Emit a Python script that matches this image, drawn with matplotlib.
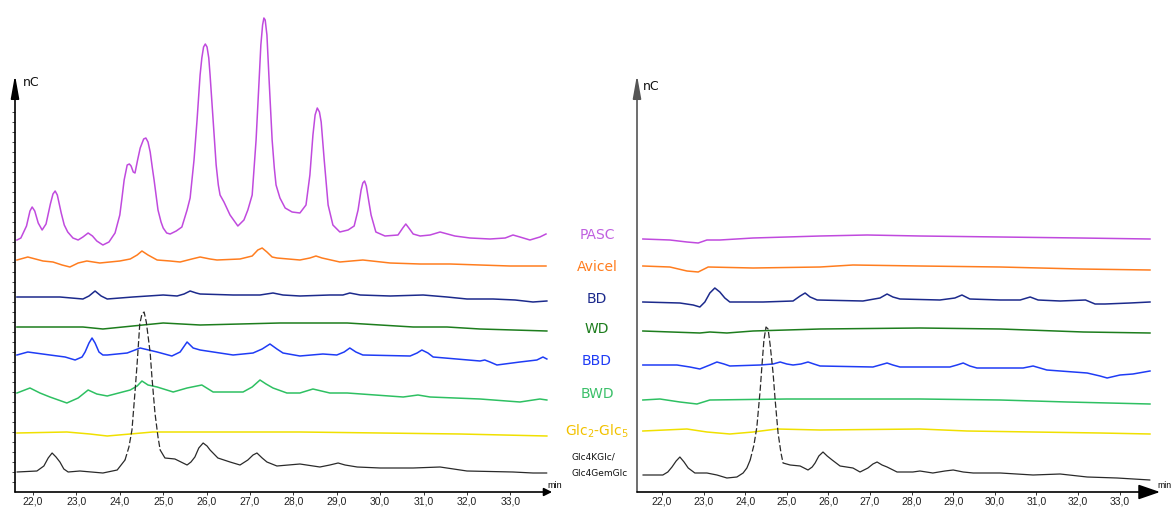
import matplotlib
matplotlib.use("Agg")
import matplotlib.pyplot as plt
import numpy as np

# ---------------- data (time in min, signal in nC, relative to each trace's start) -------------
sample_labels = ["PASC", "Avicel", "BD", "WD", "BBD", "BWD", "Glc$_2$-Glc$_5$", "Glc4KGlc/\nGlc4GemGlc"]
x_ticks = [22, 23, 24, 25, 26, 27, 28, 29, 30, 31, 32, 33]
x_tick_labels = ["22,0", "23,0", "24,0", "25,0", "26,0", "27,0", "28,0", "29,0", "30,0", "31,0", "32,0", "33,0"]

# Left panel
L_PASC_t = [21.63, 21.72, 21.85, 21.93, 21.98, 22.04, 22.12, 22.21, 22.30, 22.40,
            22.46, 22.51, 22.56, 22.65, 22.72, 22.80, 22.92, 23.04, 23.15, 23.27,
            23.37, 23.47, 23.61, 23.75, 23.89, 24.00, 24.05, 24.10, 24.17, 24.22,
            24.26, 24.31, 24.35, 24.41, 24.47, 24.55, 24.60, 24.65, 24.70, 24.75,
            24.79, 24.88, 24.95, 25.00, 25.08, 25.16, 25.30, 25.43, 25.55, 25.62,
            25.71, 25.78, 25.85, 25.89, 25.93, 25.97, 26.01, 26.05, 26.08, 26.15,
            26.22, 26.27, 26.31, 26.40, 26.54, 26.72, 26.86, 26.95, 27.05, 27.14,
            27.21, 27.25, 27.29, 27.32, 27.35, 27.39, 27.44, 27.51, 27.56, 27.60,
            27.69, 27.81, 27.97, 28.15, 28.29, 28.38, 28.45, 28.50, 28.55, 28.60,
            28.64, 28.71, 28.80, 28.91, 29.07, 29.26, 29.40, 29.49, 29.56, 29.60,
            29.64, 29.68, 29.74, 29.79, 29.90, 30.11, 30.41, 30.52, 30.59, 30.66,
            30.76, 30.92, 31.15, 31.38, 31.72, 32.07, 32.53, 32.88, 33.06, 33.22,
            33.45, 33.68, 33.82]
L_PASC_y = [0, 2, 14, 29, 33, 29, 17, 10, 16, 36,
            46, 49, 45, 27, 15, 8, 2, 0, 3, 7,
            4, -1, -5, -2, 7, 25, 42, 60, 75, 76,
            74, 68, 67, 80, 92, 101, 102, 98, 88, 72,
            60, 30, 18, 12, 7, 6, 9, 13, 30, 42,
            80, 120, 165, 182, 193, 196, 193, 182, 165, 120,
            75, 55, 45, 38, 25, 14, 20, 30, 45, 100,
            160, 195, 215, 222, 220, 205, 160, 100, 72, 55,
            42, 32, 28, 27, 35, 65, 105, 125, 132, 128,
            118, 80, 35, 15, 8, 10, 14, 30, 50, 57,
            59, 54, 38, 25, 8, 4, 5, 12, 16, 12,
            6, 4, 5, 8, 4, 2, 1, 2, 5, 3,
            0, 3, 6]

L_Avicel_t = [21.63, 21.88, 22.23, 22.46, 22.67, 22.85, 23.04, 23.24, 23.54, 24.00, 24.24, 24.40, 24.51, 24.65, 24.86,
              25.16, 25.39, 25.66, 25.85, 26.08, 26.24, 26.77, 27.05, 27.18, 27.28, 27.39, 27.51, 27.62, 28.15, 28.38,
              28.52, 28.66, 29.07, 29.60, 30.23, 30.92, 31.61, 32.30, 32.99, 33.82]
L_Avicel_y = [0, 3, -1, -2, -5, -7, -3, -1, -3, -1, 1, 5, 9, 5, 0,
              -1, -2, 1, 3, 1, 0, 1, 4, 10, 12, 8, 3, 2, 0, 2,
              4, 2, -2, 0, -3, -4, -4, -5, -6, -6]

L_BD_t = [21.63, 22.62, 23.15, 23.29, 23.43, 23.57, 23.71, 24.30, 25.00, 25.32, 25.48, 25.62, 25.76, 25.85, 26.61,
          27.23, 27.53, 27.76, 28.15, 28.84, 29.14, 29.30, 29.54, 30.23, 30.99, 31.54, 32.00, 32.60, 33.11, 33.52, 33.84]
L_BD_y = [0, 0, -2, 1, 6, 1, -2, 0, 2, 1, 3, 6, 4, 3, 2,
          2, 4, 2, 1, 2, 2, 4, 2, 1, 2, 0, -2, -2, -3, -5, -4]

L_WD_t = [21.63, 22.39, 23.15, 23.61, 24.30, 25.00, 25.85, 26.77, 27.69, 29.24, 30.76, 31.54, 32.30, 33.84]
L_WD_y = [0, 0, 0, -2, 1, 4, 2, 3, 4, 4, 0, 0, -2, -4]

L_BBD_t = [21.63, 21.88, 22.39, 22.74, 22.97, 23.13, 23.20, 23.29, 23.36, 23.43, 23.52, 23.61, 23.71, 24.17, 24.47,
           24.86, 25.20, 25.39, 25.55, 25.69, 25.85, 26.61, 27.07, 27.28, 27.46, 27.62, 27.76, 28.15, 28.68, 29.00,
           29.17, 29.30, 29.44, 29.60, 30.69, 30.85, 30.96, 31.10, 31.22, 32.30, 32.41, 32.53, 32.69, 33.22, 33.61,
           33.75, 33.84]
L_BBD_y = [0, 3, 0, -2, -5, -2, 3, 12, 17, 12, 3, 0, 0, 2, 7,
           3, -1, 3, 13, 7, 5, 0, 2, 6, 11, 6, 2, -1, 1, 0,
           3, 7, 3, 0, -1, 2, 5, 2, -2, -6, -5, -7, -10, -7, -5,
           -2, -4]

L_BWD_t = [21.63, 21.93, 22.16, 22.39, 22.78, 23.04, 23.27, 23.47, 23.71, 24.24, 24.40, 24.51, 24.65, 24.86, 25.23,
           25.55, 25.89, 26.15, 26.84, 27.05, 27.23, 27.37, 27.53, 27.85, 28.15, 28.45, 28.84, 29.24, 30.53, 30.87,
           31.15, 32.30, 33.22, 33.68, 33.84]
L_BWD_y = [0, 5, 0, -4, -10, -5, 3, -1, -3, 3, 7, 12, 8, 6, 1,
           5, 8, 1, 1, 6, 13, 9, 5, 0, 0, 4, 0, 0, -4, -2,
           -4, -6, -9, -6, -7]

L_Glc_t = [21.63, 22.78, 23.31, 23.71, 24.24, 24.76, 25.85, 28.15, 30.00, 31.84, 33.84]
L_Glc_y = [0, 1, -1, -3, -1, 1, 1, 1, 0, -1, -3]

L_Std_t = [21.63, 22.09, 22.25, 22.35, 22.44, 22.53, 22.62, 22.71, 22.81, 23.08, 23.61, 23.94, 24.12, 24.21, 24.28,
           24.35, 24.40, 24.46, 24.51, 24.56, 24.61, 24.66, 24.70, 24.74, 24.81, 24.88, 24.93, 25.04, 25.27, 25.41,
           25.55, 25.64, 25.73, 25.82, 25.92, 26.01, 26.08, 26.26, 26.54, 26.77, 26.95, 27.07, 27.16, 27.28, 27.39,
           27.62, 28.15, 28.61, 28.84, 29.03, 29.19, 29.47, 30.00, 30.76, 31.38, 32.00, 33.06, 33.52, 33.84]
L_Std_y = [0, 1, 6, 14, 19, 15, 10, 3, 0, 1, -1, 2, 12, 25, 42,
           80, 109, 148, 158, 160, 150, 133, 119, 95, 59, 35, 22, 14, 13, 10,
           7, 10, 15, 24, 29, 26, 22, 14, 10, 7, 12, 17, 19, 14, 10,
           6, 8, 5, 7, 9, 7, 5, 4, 4, 5, 1, 0, -1, -1]

# Right panel
R_PASC_t = [21.54, 22.19, 22.60, 22.87, 23.08, 23.39, 24.19, 25.00, 25.80, 26.93, 28.20, 30.13, 32.05, 33.73]
R_PASC_y = [0, -1, -3, -4, -1, -1, 1, 2, 3, 4, 3, 2, 1, 0]

R_Avicel_t = [21.54, 22.19, 22.60, 22.87, 23.11, 24.19, 25.80, 26.59, 28.20, 30.13, 32.05, 33.73]
R_Avicel_y = [0, -1, -5, -6, -1, -2, -1, 1, 0, -1, -3, -4]

R_BD_t = [21.54, 22.43, 22.75, 22.91, 23.03, 23.15, 23.27, 23.39, 23.51, 23.63, 24.43, 25.15, 25.32, 25.44, 25.56,
          25.73, 26.83, 27.24, 27.41, 27.55, 27.72, 28.68, 29.04, 29.21, 29.40, 30.13, 30.61, 30.85, 31.04, 31.57,
          32.18, 32.41, 32.65, 33.25, 33.73]
R_BD_y = [0, -1, -3, -5, 0, 9, 14, 10, 4, 0, 0, 1, 6, 9, 5,
          2, 1, 4, 8, 5, 3, 2, 4, 7, 3, 2, 2, 5, 2, 1,
          2, -2, -2, -1, 0]

R_WD_t = [21.54, 22.91, 23.15, 23.56, 24.19, 25.80, 28.20, 30.13, 32.13, 33.73]
R_WD_y = [0, -2, -1, -2, 0, 2, 3, 2, -1, -2]

R_BBD_t = [21.54, 22.36, 22.67, 22.91, 23.15, 23.32, 23.49, 23.63, 24.36, 24.67, 24.84, 25.00, 25.15, 25.34, 25.51,
           25.65, 25.80, 27.07, 27.24, 27.41, 27.55, 27.72, 28.92, 29.09, 29.24, 29.40, 29.57, 30.68, 30.92, 31.25,
           32.22, 32.53, 32.70, 33.01, 33.32, 33.73]
R_BBD_y = [0, 0, -2, -4, 0, 3, 1, -1, 0, 1, 3, 1, 0, 1, 3,
           1, -1, -2, 0, 2, 0, -2, -2, 0, 2, -1, -3, -3, -1, -5,
           -8, -11, -13, -10, -9, -6]

R_BWD_t = [21.54, 21.95, 22.43, 22.84, 23.15, 25.00, 28.20, 30.13, 31.74, 33.73]
R_BWD_y = [0, 1, -2, -4, 0, 1, 1, 0, -2, -4]

R_Glc_t = [21.54, 22.60, 23.08, 23.63, 24.19, 24.76, 25.80, 28.20, 29.33, 30.92, 32.53, 33.73]
R_Glc_y = [0, 2, -1, -3, -1, 2, 1, 2, 0, -1, -2, -3]

R_Std_t = [21.54, 22.02, 22.14, 22.24, 22.34, 22.43, 22.53, 22.63, 22.79, 23.08, 23.32, 23.56, 23.80, 23.95, 24.04,
           24.12, 24.21, 24.28, 24.36, 24.40, 24.45, 24.50, 24.55, 24.60, 24.67, 24.72, 24.79, 24.86, 24.91, 25.08,
           25.32, 25.51, 25.61, 25.68, 25.77, 25.87, 25.97, 26.09, 26.28, 26.59, 26.76, 26.95, 27.07, 27.17, 27.29,
           27.41, 27.65, 28.03, 28.20, 28.51, 28.80, 29.00, 29.24, 29.48, 30.13, 30.92, 31.57, 32.22, 32.94, 33.73]
R_Std_y = [0, 0, 3, 8, 14, 18, 13, 7, 2, 2, 0, -3, -2, 2, 7,
           15, 30, 48, 85, 108, 135, 148, 146, 130, 102, 75, 42, 22, 12, 10,
           9, 5, 8, 12, 19, 23, 19, 15, 9, 7, 3, 7, 11, 13, 10,
           8, 3, 3, 4, 2, 4, 5, 3, 2, 2, 0, 1, -2, -3, -5]

left_series = [(L_PASC_t, L_PASC_y), (L_Avicel_t, L_Avicel_y), (L_BD_t, L_BD_y), (L_WD_t, L_WD_y),
               (L_BBD_t, L_BBD_y), (L_BWD_t, L_BWD_y), (L_Glc_t, L_Glc_y), (L_Std_t, L_Std_y)]
right_series = [(R_PASC_t, R_PASC_y), (R_Avicel_t, R_Avicel_y), (R_BD_t, R_BD_y), (R_WD_t, R_WD_y),
                (R_BBD_t, R_BBD_y), (R_BWD_t, R_BWD_y), (R_Glc_t, R_Glc_y), (R_Std_t, R_Std_y)]

# ---------------- style / layout ----------------
line_colors = ["#c04ade", "#ff7d1f", "#1c2a8c", "#1d7d1d", "#1f3cf5", "#2ec062", "#f0e000", "#2a2a2a"]
text_colors = ["#c060e0", "#ff7d1f", "#1c2a8c", "#1d7d1d", "#1f3cf5", "#3cc06a", "#f2c200", "#111111"]
left_offsets = [252, 232, 195, 165, 137, 99, 59, 20]
right_offsets = [253, 226, 190, 161, 127, 92, 61, 17]

W, H = 1174, 507
fig = plt.figure(figsize=(W / 100, H / 100), dpi=100)

def px_axes(x0, x1, ybot, ytop):
    return [x0 / W, (H - ybot) / H, (x1 - x0) / W, (ybot - ytop) / H]

axL = fig.add_axes(px_axes(15, 560, 492, 10))
axR = fig.add_axes(px_axes(637, 1168, 492, 10))
axL.set_xlim(21.585, 34.143)
axR.set_xlim(21.399, 34.163)
for ax in (axL, axR):
    ax.set_ylim(0, 482)
    for s in ax.spines.values():
        s.set_visible(False)
    ax.patch.set_alpha(0)
    ax.set_xticks(x_ticks)
    ax.set_xticklabels(x_tick_labels, fontfamily="Liberation Sans", fontsize=7.5, color="#222222")
    ax.tick_params(axis="x", length=2.5, width=0.7, pad=1.0, color="#333333")

axL.set_yticks(np.arange(10, 390, 10))
axL.set_yticklabels([])
axL.tick_params(axis="y", length=2.5, width=0.6, color="#333333")
axR.set_yticks([])

def draw_traces(ax, series, offsets, lo, hi):
    for i, ((t, y), off) in enumerate(zip(series, offsets)):
        t = np.asarray(t, float)
        y = np.asarray(y, float) + off
        c = line_colors[i]
        if i == len(series) - 1:
            i0 = np.where(t <= lo)[0][-1]
            i1 = np.where(t >= hi)[0][0]
            ax.plot(t[:i0 + 1], y[:i0 + 1], color=c, lw=0.9, solid_capstyle="round")
            ax.plot(t[i0:i1 + 1], y[i0:i1 + 1], color=c, lw=0.9, ls=(0, (5, 2)))
            ax.plot(t[i1:], y[i1:], color=c, lw=0.9, solid_capstyle="round")
        else:
            ax.plot(t, y, color=c, lw=1.1, solid_joinstyle="round")

draw_traces(axL, left_series, left_offsets, 24.15, 24.9)
draw_traces(axR, right_series, right_offsets, 24.15, 24.9)

def arrow(ax, start, end, hl, hw, ms, color="black", lw=1.2):
    ax.annotate("", xy=end, xytext=start, xycoords="data", textcoords="data",
                arrowprops=dict(arrowstyle=f"-|>,head_length={hl},head_width={hw}", color=color, lw=lw,
                                shrinkA=0, shrinkB=0, mutation_scale=ms),
                annotation_clip=False)

# axes with arrow heads
arrow(axL, (21.585, 0), (21.585, 417), 1.4, 0.25, 10)
arrow(axL, (21.585, 0), (33.96, 0), 0.6, 0.3, 8)
arrow(axR, (21.399, 0), (21.399, 417), 1.4, 0.25, 10, color="#555555")
arrow(axR, (21.399, 0), (33.97, 0), 1.1, 0.38, 12)

fig.text(555 / W, 1 - 485 / H, "min", ha="center", va="center", fontsize=6.5, fontfamily="Liberation Sans")
fig.text(1172 / W, 1 - 486 / H, "min", ha="right", va="center", fontsize=6.2, fontfamily="Liberation Sans")

fig.text(23 / W, 1 - 83 / H, "nC", ha="left", va="center", fontsize=9, color="#111111")
fig.text(643 / W, 1 - 86 / H, "nC", ha="left", va="center", fontsize=9, color="#111111")

# sample labels between the panels
label_y = [235, 267, 299, 329, 361, 394, 431]
for lab, yy, col in zip(sample_labels[:7], label_y, text_colors[:7]):
    fig.text(597 / W, 1 - yy / H, lab, ha="center", va="center", fontsize=10, color=col)
std_lines = sample_labels[7].split("\n")
fig.text(572 / W, 1 - 457 / H, std_lines[0], ha="left", va="center", fontsize=6.5, color=text_colors[7])
fig.text(572 / W, 1 - 473 / H, std_lines[1], ha="left", va="center", fontsize=6.5, color=text_colors[7])

fig.savefig("out.png", dpi=100)
